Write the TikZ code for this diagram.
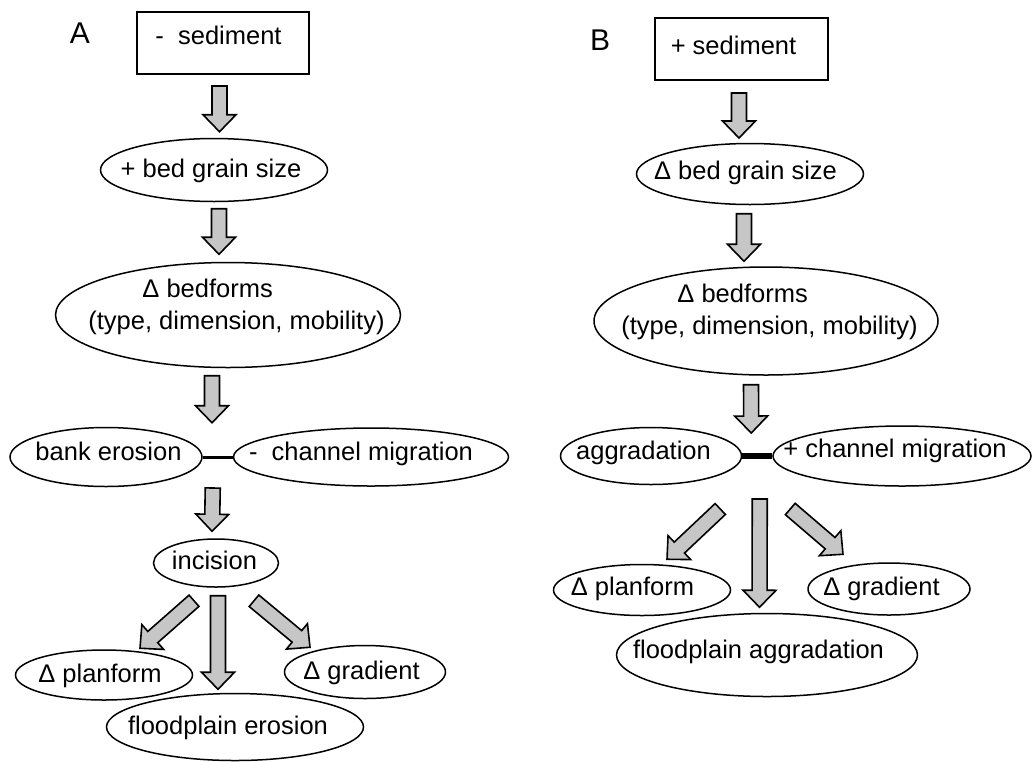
\documentclass[tikz,border=0pt]{standalone}
\usepackage{fontspec}
\setmainfont{Liberation Sans}
\usetikzlibrary{calc,shapes.geometric}

\definecolor{arrowgray}{RGB}{198,198,198}
\tikzset{
  bubble/.style={draw,ellipse,line width=1.5pt,inner sep=0pt},
  srcbox/.style={draw,rectangle,line width=2pt,inner sep=0pt},
  link/.style={draw,line width=3pt},
  fatarr/.style={draw,fill=arrowgray,line width=1.6pt,line join=miter},
  panel/.style={font=\fontsize{30}{34}\selectfont}
}
% text set in a box of no size, moved by #1 right and #2 up
\newcommand{\inlabel}[3]{\makebox[0pt]{\kern#1\relax\smash{\raisebox{#2}{#3}}\kern-#1\relax}}
% block arrow from #1 to the tip #2
\newcommand{\fatarrow}[2]{%
  \coordinate (fa-s) at (#1);
  \coordinate (fa-e) at (#2);
  \coordinate (fa-n) at ($(fa-e)!17pt!(fa-s)$);
  \draw[fatarr] ($(fa-s)!7.5pt!90:(fa-e)$) -- ($(fa-n)!7.5pt!-90:(fa-s)$)
    -- ($(fa-n)!16.5pt!-90:(fa-s)$) -- (fa-e) -- ($(fa-n)!16.5pt!90:(fa-s)$)
    -- ($(fa-n)!7.5pt!90:(fa-s)$) -- ($(fa-s)!7.5pt!-90:(fa-e)$) -- cycle;}

\begin{document}
\begin{tikzpicture}[x=1pt,y=-1pt,font=\fontsize{25.5}{32}\selectfont]
\useasboundingbox (0,0) rectangle (1032,761);

% A
\node[panel] (labA) at (80,33) {A};
\node[srcbox,minimum width=172pt,minimum height=62pt] (sedA) at (223,43) {\inlabel{-4.5pt}{-1pt}{-\ \ sediment}};
\node[bubble,minimum width=227pt,minimum height=63pt] (grainA) at (214,170) {\inlabel{-3pt}{-7pt}{+ bed grain size}};
\node[bubble,minimum width=345pt,minimum height=105pt] (bedA) at (228,315)
  {\inlabel{8.5pt}{2pt}{\begin{tabular}{@{}l@{}}\hspace*{54pt}Δ bedforms\\(type, dimension, mobility)\end{tabular}}};
\node[bubble,minimum width=192pt,minimum height=59pt] (bankA) at (106,457) {\inlabel{2.5pt}{-3pt}{bank erosion}};
\node[bubble,minimum width=275pt,minimum height=58pt] (migA) at (371,457) {\inlabel{-10pt}{-3pt}{-\ \ channel migration}};
\node[bubble,minimum width=125pt,minimum height=48pt] (incA) at (216,563) {\inlabel{-1.5pt}{-6pt}{incision}};
\node[bubble,minimum width=177pt,minimum height=50pt] (planA) at (104,675) {\inlabel{-4pt}{-7pt}{Δ planform}};
\node[bubble,minimum width=161pt,minimum height=53pt] (gradA) at (365,672) {\inlabel{-3.5pt}{-7pt}{Δ gradient}};
\node[bubble,minimum width=257pt,minimum height=67pt] (floodA) at (235,727) {\inlabel{-7pt}{-7pt}{floodplain erosion}};
\draw[link] (bankA.east) -- (migA.west);
\coordinate (linkA) at ($(bankA.east)!0.5!(migA.west)$);

\fatarrow{$(sedA.south)+(-3.5,11)$}{$(grainA.north)+(5.5,-6)$}
\fatarrow{$(grainA.south)+(5,6.5)$}{$(bedA.north)+(-9,-7.5)$}
\fatarrow{$(bedA.south)+(-16,7.5)$}{$(bedA.south)+(-16,54.5)$}
\fatarrow{$(linkA)+(-5,31)$}{$(incA.north)+(-4,-7)$}
\fatarrow{$(incA.south)+(-22,13)$}{$(planA.north)+(36,-1)$}
\fatarrow{$(incA.south)+(2,8)$}{$(floodA.north)+(-17,-3.5)$}
\fatarrow{$(incA.south)+(38,13)$}{$(gradA.north)+(-55,2.5)$}

% B
\node[panel] (labB) at (600,40) {B};
\node[srcbox,minimum width=173pt,minimum height=62pt] (sedB) at (741,49) {\inlabel{-7.5pt}{-5pt}{+ sediment}};
\node[bubble,minimum width=227pt,minimum height=61pt] (grainB) at (750,174) {\inlabel{-4.5pt}{-5pt}{Δ bed grain size}};
\node[bubble,minimum width=344pt,minimum height=108pt] (bedB) at (766,321)
  {\inlabel{3.5pt}{2.5pt}{\begin{tabular}{@{}l@{}}\hspace*{56pt}Δ bedforms\\(type, dimension, mobility)\end{tabular}}};
\node[bubble,minimum width=181pt,minimum height=57pt] (aggB) at (651,456) {\inlabel{-7.5pt}{-3.5pt}{aggradation}};
\node[bubble,minimum width=258pt,minimum height=60pt] (migB) at (902,456) {\inlabel{-7pt}{-1pt}{+ channel migration}};
\node[bubble,minimum width=177pt,minimum height=51pt] (planB) at (642,590) {\inlabel{-9.5pt}{-5.5pt}{Δ planform}};
\node[bubble,minimum width=162pt,minimum height=52pt] (gradB) at (889,589) {\inlabel{-7.5pt}{-6pt}{Δ gradient}};
\node[bubble,minimum width=301pt,minimum height=83pt] (floodB) at (767,655) {\inlabel{-8.5pt}{-3.5pt}{floodplain aggradation}};
\draw[link,line width=6pt] (aggB.east) -- (migB.west);
\coordinate (linkB) at ($(aggB.east)!0.5!(migB.west)$);

\fatarrow{$(sedB.south)+(-2,12)$}{$(sedB.south)+(-2,57)$}
\fatarrow{$(grainB.south)+(-6,8.5)$}{$(bedB.north)+(-22,-5)$}
\fatarrow{$(bedB.south)+(-15,9)$}{$(linkB)+(-6,-23)$}
\fatarrow{$(linkB)+(2.5,43)$}{$(floodB.north)+(-7.5,-5.5)$}
\fatarrow{$(linkB)+(-37,53)$}{$(planB.north)+(25,-4.5)$}
\fatarrow{$(linkB)+(33,53)$}{$(gradB.north)+(-46,-8)$}
\end{tikzpicture}
\end{document}
